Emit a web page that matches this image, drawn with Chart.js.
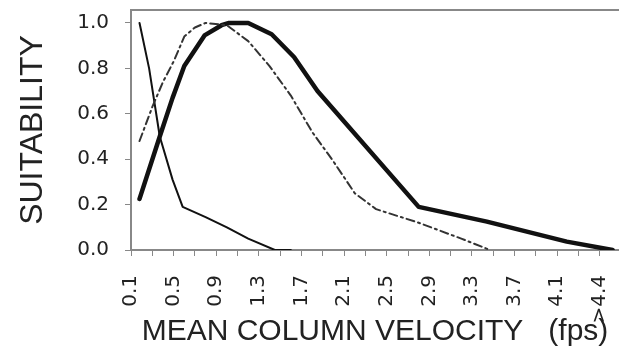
<!DOCTYPE html>
<html><head><meta charset="utf-8">
<script src="https://cdn.jsdelivr.net/npm/chart.js@4/dist/chart.umd.min.js"></script>
<style>html,body{margin:0;padding:0;background:#fff;overflow:hidden}</style>
</head><body>
<canvas id="c" width="619" height="351"></canvas>
<script>
// Thick solid curve
const thickX = [0.18, 0.37, 0.49, 0.60, 0.79, 0.95, 1.02, 1.20, 1.42, 1.63, 1.85, 2.80, 3.44, 4.19, 4.62];
const thickY = [0.225, 0.50, 0.67, 0.81, 0.945, 0.99, 1.0, 1.0, 0.95, 0.85, 0.70, 0.19, 0.125, 0.037, 0.0];
// Dash-dot curve
const dashX = [0.18, 0.30, 0.40, 0.50, 0.60, 0.70, 0.80, 1.00, 1.20, 1.40, 1.60, 1.80, 2.00, 2.20, 2.40, 2.80, 3.20, 3.47];
const dashY = [0.48, 0.63, 0.74, 0.83, 0.94, 0.98, 1.0, 0.99, 0.92, 0.81, 0.68, 0.52, 0.39, 0.25, 0.18, 0.12, 0.05, 0.0];
// Thin solid curve
const thinX = [0.18, 0.27, 0.37, 0.49, 0.585, 0.80, 1.00, 1.20, 1.45, 1.60];
const thinY = [1.0, 0.80, 0.50, 0.31, 0.19, 0.145, 0.10, 0.05, 0.0, 0.0];

const xTickValues = [0.1,0.3,0.5,0.7,0.9,1.1,1.3,1.5,1.7,1.9,2.1,2.3,2.5,2.7,2.9,3.1,3.3,3.5,3.7,3.9,4.1,4.3,4.5];
const xTickLabels = ['0.1','','0.5','','0.9','','1.3','','1.7','','2.1','','2.5','','2.9','','3.3','','3.7','','4.1','','>4.4'];
const yTickValues = [0, 0.2, 0.4, 0.6, 0.8, 1.0];
const yTickLabels = ['0.0','0.2','0.4','0.6','0.8','1.0'];

const pts = (xs, ys) => xs.map((x, i) => ({x: x, y: ys[i]}));

const topBorder = {
  id: 'topBorder',
  afterDraw(chart) {
    const {ctx, chartArea: a} = chart;
    ctx.save();
    ctx.strokeStyle = '#888';
    ctx.lineWidth = 2;
    ctx.beginPath();
    ctx.moveTo(a.left - 1, a.top);
    ctx.lineTo(a.right, a.top);
    ctx.stroke();
    ctx.restore();
  }
};

new Chart(document.getElementById('c'), {
  type: 'line',
  data: {
    datasets: [
      {data: pts(dashX, dashY), borderColor: '#333', borderWidth: 2, borderDash: [8, 4, 2, 4]},
      {data: pts(thinX, thinY), borderColor: '#111', borderWidth: 2},
      {data: pts(thickX, thickY), borderColor: '#111', borderWidth: 4.5}
    ]
  },
  plugins: [topBorder],
  options: {
    responsive: false,
    animation: false,
    devicePixelRatio: 1,
    layout: {padding: {top: 10, left: 0, right: 0, bottom: 0}},
    plugins: {legend: {display: false}, tooltip: {enabled: false}},
    elements: {point: {radius: 0}, line: {tension: 0, borderJoinStyle: 'round', borderCapStyle: 'round'}},
    scales: {
      x: {
        type: 'linear', position: 'bottom', min: 0.1, max: 4.68,
        afterBuildTicks: s => { s.ticks = xTickValues.map(v => ({value: v})); },
        afterFit: s => { s.height = 101; s.paddingLeft = 0; s.paddingRight = 0; },
        ticks: {autoSkip: false, minRotation: 90, maxRotation: 90, padding: 19, color: '#222',
          font: {family: 'DejaVu Sans', size: 20},
          callback: (v, i) => xTickLabels[i]},
        grid: {drawOnChartArea: false, drawTicks: true, tickLength: 6, color: '#888', lineWidth: 1},
        border: {display: true, color: '#888', width: 2},
        title: {display: true, text: 'MEAN COLUMN VELOCITY   (fps)', color: '#222',
          font: {family: 'Liberation Sans', size: 30, lineHeight: 1}, padding: {top: 0, bottom: 4}}
      },
      y: {
        min: 0, max: 1.057,
        afterBuildTicks: s => { s.ticks = yTickValues.map(v => ({value: v})); },
        afterFit: s => { s.width = 131; s.paddingTop = 0; s.paddingBottom = 0; },
        ticks: {padding: 16, color: '#222', font: {family: 'DejaVu Sans', size: 20},
          callback: (v, i) => yTickLabels[i]},
        grid: {drawOnChartArea: false, drawTicks: true, tickLength: 6, color: '#888', lineWidth: 1},
        border: {display: true, color: '#888', width: 2},
        title: {display: true, text: 'SUITABILITY', color: '#222',
          font: {family: 'Liberation Sans', size: 32, lineHeight: 1}, padding: {top: 17, bottom: 0}}
      }
    }
  }
});
</script>
</body></html>
